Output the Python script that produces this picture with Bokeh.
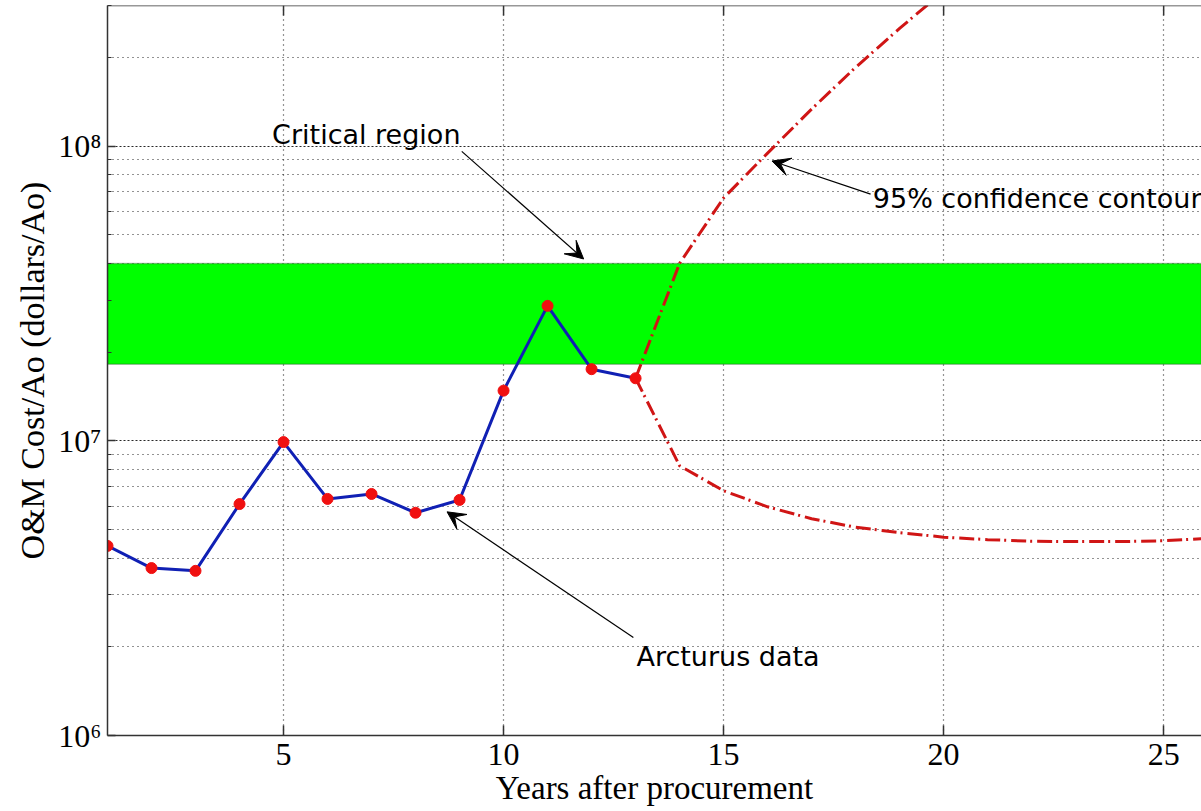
from bokeh.plotting import figure
from bokeh.models import (FixedTicker, BoxAnnotation, Label, Arrow, VeeHead,
                          Range1d, Span)
from bokeh.embed import file_html
from bokeh.resources import INLINE

# ---------------- data ----------------
years = [1, 2, 3, 4, 5, 6, 7, 8, 9, 10, 11, 12, 13]
cost = [4.4e6, 3.7e6, 3.62e6, 6.1e6, 9.9e6, 6.35e6, 6.6e6, 5.7e6, 6.3e6,
        1.48e7, 2.87e7, 1.75e7, 1.63e7]

upper_years = [13, 14, 15, 16, 17, 18, 19, 20]
upper_cost = [1.63e7, 4.0e7, 6.67e7, 9.47e7, 1.335e8, 1.85e8, 2.51e8, 3.35e8]

lower_years = [13, 14, 15, 16, 17, 18, 19, 20, 21, 22, 23, 24, 25, 26]
lower_cost = [1.63e7, 8.23e6, 6.77e6, 5.97e6, 5.44e6, 5.09e6, 4.88e6, 4.71e6,
              4.62e6, 4.56e6, 4.55e6, 4.55e6, 4.58e6, 4.66e6]

critical_low = 1.82e7
critical_high = 4.0e7

x_ticks = [5, 10, 15, 20, 25]
y_ticks = [1e6, 1e7, 1e8]
y_tick_labels = ["10\u2076", "10\u2077", "10\u2078"]
y_minor = [m * d for d in (1e6, 1e7, 1e8) for m in range(2, 10)]

x_label = "Years after procurement"
y_label = "O&M Cost/Ao (dollars/Ao)"

X_START, X_END = 1, 25.86
Y_START, Y_END = 1e6, 3e8

# ---------------- figure ----------------
SERIF = "Liberation Serif"
SANS = "DejaVu Sans"
AXIS_COLOR = "#333333"

p = figure(width=1201, height=811, y_axis_type="log",
           x_range=Range1d(X_START, X_END), y_range=Range1d(Y_START, Y_END),
           output_backend="svg", toolbar_location=None,
           min_border_left=107, min_border_right=0, min_border_top=5,
           min_border_bottom=76)
p.outline_line_color = None
p.background_fill_color = "white"
p.border_fill_color = "white"

# axes
p.xaxis.ticker = FixedTicker(ticks=x_ticks)
p.xgrid.ticker = FixedTicker(ticks=x_ticks)
p.yaxis.ticker = FixedTicker(ticks=y_ticks, minor_ticks=y_minor)
p.ygrid.ticker = FixedTicker(ticks=y_ticks, minor_ticks=y_minor)
p.yaxis.major_label_overrides = {t: l for t, l in zip(y_ticks, y_tick_labels)}

for ax in (p.xaxis[0], p.yaxis[0]):
    ax.axis_line_color = AXIS_COLOR
    ax.axis_line_width = 1.5
    ax.major_tick_line_color = AXIS_COLOR
    ax.major_tick_line_width = 1.5
    ax.minor_tick_line_color = AXIS_COLOR
    ax.major_tick_out = 0
    ax.minor_tick_out = 0
    ax.major_label_text_font = SERIF
    ax.major_label_text_font_size = "32px"
    ax.major_label_text_color = "black"
    ax.axis_label_text_font = SERIF
    ax.axis_label_text_font_style = "normal"
    ax.axis_label_text_color = "black"

p.xaxis.major_tick_in = 10
p.xaxis.minor_tick_line_color = None
p.xaxis.major_label_standoff = 8
p.xaxis.axis_label = x_label
p.xaxis.axis_label_text_font_size = "33px"
p.xaxis.axis_label_standoff = 2

p.yaxis.major_tick_in = 8
p.yaxis.minor_tick_in = 4
p.yaxis.major_label_standoff = 6
p.yaxis.axis_label = y_label
p.yaxis.axis_label_text_font_size = "34px"
p.yaxis.axis_label_standoff = 4

# top border of the box, with inward ticks
p.add_layout(Span(location=Y_END, dimension="width", line_color=AXIS_COLOR,
                  line_width=1.5))
TOP_TICK_RATIO = 10 ** (-10 / 294.7)
for t in x_ticks:
    p.add_layout(Arrow(x_start=t, y_start=Y_END, x_end=t,
                       y_end=Y_END * TOP_TICK_RATIO, end=None,
                       line_color=AXIS_COLOR, line_width=1.5))

# grid
GRID = "#111111"
p.xgrid.grid_line_color = GRID
p.xgrid.grid_line_alpha = 0.9
p.xgrid.grid_line_width = 1.2
p.xgrid.grid_line_dash = "1 4"
p.ygrid.grid_line_color = GRID
p.ygrid.grid_line_alpha = 0.9
p.ygrid.grid_line_width = 1.2
p.ygrid.grid_line_dash = "2 2"
p.ygrid.minor_grid_line_color = GRID
p.ygrid.minor_grid_line_alpha = 0.9
p.ygrid.minor_grid_line_width = 1.2
p.ygrid.minor_grid_line_dash = "1 4"

# critical region band
band = BoxAnnotation(bottom=critical_low, top=critical_high,
                     fill_color="#00ff00", fill_alpha=1.0,
                     line_color="#333333", line_width=1.5, level="underlay")
p.add_layout(band)

# confidence contours
RED = "#d01515"
p.line(upper_years, upper_cost, line_color=RED, line_width=3,
       line_dash="15 4 2 5")
p.line(lower_years, lower_cost, line_color=RED, line_width=3,
       line_dash="15 4 2 5")

# Arcturus data
p.line(years, cost, line_color="#1020b4", line_width=3)
p.scatter(years, cost, size=11, fill_color="#f01010", line_color="#f01010")

# annotations
def note(text, x, y):
    p.add_layout(Label(x=x, y=y, text=text, text_font=SANS,
                       text_font_size="27px", text_color="black",
                       text_baseline="middle", text_align="left"))

def pointer(x0, y0, x1, y1):
    p.add_layout(Arrow(x_start=x0, y_start=y0, x_end=x1, y_end=y1,
                       line_color="black", line_width=1.2,
                       end=VeeHead(size=18, fill_color="black",
                                   line_color="black", line_width=1)))

note("Critical region", 4.74, 1.098e8)
pointer(9.05, 9.6e7, 11.82, 4.14e7)

note("95% confidence contour", 18.39, 6.66e7)
pointer(18.34, 6.87e7, 16.1, 8.9e7)

note("Arcturus data", 13.02, 1.854e6)
pointer(12.95, 2.15e6, 8.716, 5.74e6)

open("out.html", "w").write(file_html(p, INLINE))
